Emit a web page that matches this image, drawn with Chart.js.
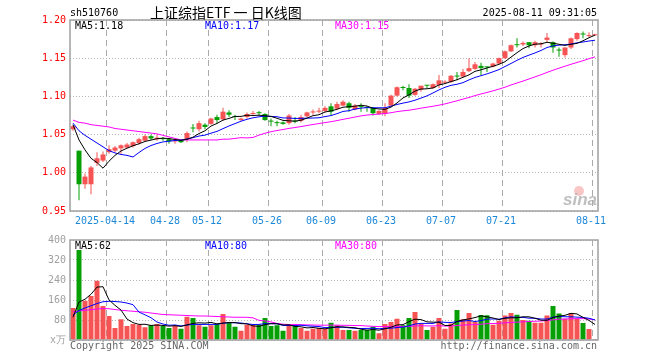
<!DOCTYPE html>
<html>
<head>
<meta charset="utf-8">
<script src="https://cdn.jsdelivr.net/npm/chart.js@4.4.1/dist/chart.umd.min.js"></script>
<style>
    html, body { margin: 0; padding: 0; background: #fff; }
    #wrap { position: relative; width: 660px; height: 360px; overflow: hidden; }
    #wrap canvas { position: absolute; left: 0; }
    .txt { position: absolute; font: 10px 'DejaVu Sans Mono', monospace; line-height: 12px; white-space: nowrap; color: #000; }
</style>
</head>
<body>
<div id="wrap">
    <canvas id="priceChart" width="660" height="230" style="top:0"></canvas>
    <canvas id="volChart" width="660" height="130" style="top:230px"></canvas>
    <div class="txt" style="left:70px;top:7px">sh510760</div>
    <div class="txt" style="left:150px;top:4px;font:14px 'Noto Sans CJK SC';line-height:16px">上证综指ETF 一 日K线图</div>
    <div class="txt" style="right:63px;top:7px">2025-08-11 09:31:05</div>
    <div class="txt" style="left:70px;top:340px;color:#666">Copyright 2025 SINA.COM</div>
    <div class="txt" style="right:63px;top:340px;color:#666">http://finance.sina.com.cn</div>
</div>
<script>
// ===== DATA =====
const dates = ['04-03', '04-07', '04-08', '04-09', '04-10', '04-11', '04-14', '04-15', '04-16', '04-17',
    '04-18', '04-21', '04-22', '04-23', '04-24', '04-25', '04-28', '04-29', '04-30', '05-06',
    '05-07', '05-08', '05-09', '05-12', '05-13', '05-14', '05-15', '05-16', '05-19', '05-20',
    '05-21', '05-22', '05-23', '05-26', '05-27', '05-28', '05-29', '05-30', '06-03', '06-04',
    '06-05', '06-06', '06-09', '06-10', '06-11', '06-12', '06-13', '06-16', '06-17', '06-18',
    '06-19', '06-20', '06-23', '06-24', '06-25', '06-26', '06-27', '06-30', '07-01', '07-02',
    '07-03', '07-04', '07-07', '07-08', '07-09', '07-10', '07-11', '07-14', '07-15', '07-16',
    '07-17', '07-18', '07-21', '07-22', '07-23', '07-24', '07-25', '07-28', '07-29', '07-30',
    '07-31', '08-01', '08-04', '08-05', '08-06', '08-07', '08-08', '08-11'];

const tickDates = ['04-14', '04-28', '05-12', '05-26', '06-09', '06-23', '07-07', '07-21', '08-11'];
const tickLabels = ['2025-04-14', '04-28', '05-12', '05-26', '06-09', '06-23', '07-07', '07-21', '08-11'];

const opens = [1.057, 1.029, 0.985, 0.985, 1.013, 1.016, 1.027, 1.029, 1.032, 1.033,
    1.035, 1.039, 1.042, 1.048, 1.044, 1.045, 1.044, 1.041, 1.043, 1.044,
    1.059, 1.057, 1.063, 1.064, 1.073, 1.070, 1.079, 1.074, 1.069, 1.073,
    1.077, 1.079, 1.077, 1.068, 1.066, 1.066, 1.065, 1.068, 1.068, 1.074,
    1.079, 1.080, 1.081, 1.087, 1.084, 1.088, 1.091, 1.083, 1.087, 1.086,
    1.085, 1.077, 1.077, 1.088, 1.101, 1.112, 1.111, 1.102, 1.109, 1.115,
    1.111, 1.115, 1.118, 1.119, 1.127, 1.126, 1.133, 1.136, 1.140, 1.139,
    1.139, 1.143, 1.150, 1.159, 1.168, 1.168, 1.171, 1.167, 1.168, 1.174,
    1.171, 1.161, 1.154, 1.164, 1.175, 1.182, 1.179, 1.180];

const highs = [1.062, 1.029, 0.999, 1.009, 1.027, 1.028, 1.036, 1.035, 1.037, 1.039,
    1.041, 1.046, 1.050, 1.050, 1.050, 1.047, 1.046, 1.044, 1.044, 1.054,
    1.064, 1.068, 1.065, 1.072, 1.076, 1.085, 1.082, 1.076, 1.072, 1.079,
    1.081, 1.081, 1.078, 1.071, 1.068, 1.067, 1.077, 1.073, 1.076, 1.080,
    1.083, 1.085, 1.087, 1.091, 1.093, 1.095, 1.093, 1.090, 1.091, 1.087,
    1.086, 1.082, 1.091, 1.102, 1.113, 1.114, 1.116, 1.111, 1.114, 1.115,
    1.117, 1.128, 1.121, 1.128, 1.132, 1.136, 1.150, 1.145, 1.144, 1.139,
    1.144, 1.151, 1.160, 1.168, 1.176, 1.172, 1.171, 1.173, 1.171, 1.183,
    1.172, 1.164, 1.164, 1.177, 1.184, 1.185, 1.184, 1.182];

const lows = [1.055, 0.964, 0.979, 0.972, 1.009, 1.014, 1.025, 1.027, 1.025, 1.032,
    1.033, 1.037, 1.041, 1.043, 1.042, 1.042, 1.038, 1.038, 1.039, 1.040,
    1.053, 1.054, 1.057, 1.063, 1.065, 1.068, 1.073, 1.069, 1.068, 1.071,
    1.076, 1.075, 1.068, 1.061, 1.061, 1.063, 1.063, 1.065, 1.066, 1.073,
    1.076, 1.078, 1.079, 1.075, 1.082, 1.087, 1.080, 1.082, 1.080, 1.080,
    1.075, 1.076, 1.074, 1.087, 1.100, 1.108, 1.098, 1.101, 1.106, 1.111,
    1.110, 1.111, 1.117, 1.118, 1.121, 1.125, 1.132, 1.135, 1.128, 1.132,
    1.138, 1.142, 1.149, 1.158, 1.164, 1.166, 1.163, 1.164, 1.164, 1.171,
    1.157, 1.152, 1.151, 1.162, 1.173, 1.176, 1.177, 1.179];

const closes = [1.061, 0.985, 0.995, 1.007, 1.019, 1.024, 1.031, 1.033, 1.036, 1.037,
    1.040, 1.044, 1.048, 1.045, 1.046, 1.044, 1.041, 1.042, 1.040, 1.052,
    1.058, 1.065, 1.060, 1.071, 1.069, 1.080, 1.076, 1.073, 1.071, 1.077,
    1.078, 1.078, 1.069, 1.067, 1.065, 1.064, 1.075, 1.067, 1.073, 1.079,
    1.080, 1.081, 1.085, 1.080, 1.090, 1.093, 1.085, 1.088, 1.086, 1.085,
    1.078, 1.081, 1.085, 1.101, 1.112, 1.111, 1.101, 1.110, 1.114, 1.114,
    1.116, 1.121, 1.119, 1.127, 1.126, 1.132, 1.137, 1.142, 1.137, 1.138,
    1.143, 1.150, 1.159, 1.167, 1.167, 1.170, 1.167, 1.171, 1.169, 1.177,
    1.164, 1.160, 1.164, 1.176, 1.183, 1.181, 1.180, 1.181];

// volume, 万
const volumes = [128, 360, 157, 176, 237, 136, 96, 48, 83, 56,
    64, 61, 51, 59, 64, 56, 48, 59, 45, 93,
    88, 59, 53, 59, 64, 104, 69, 53, 37, 61,
    61, 61, 88, 56, 59, 37, 64, 56, 48, 37,
    45, 48, 45, 69, 59, 40, 40, 37, 40, 40,
    53, 27, 64, 72, 85, 59, 88, 112, 64, 40,
    53, 88, 45, 66, 120, 83, 108, 72, 100, 99,
    61, 77, 98, 108, 101, 80, 77, 69, 69, 98,
    136, 106, 85, 108, 86, 68, 44, 4];

// MA values before enough days are on the chart
const ma5Head = [1.063, 1.043, 1.030, 1.019];
const ma10Head = [1.065, 1.055, 1.049, 1.044, 1.039, 1.034, 1.029, 1.026, 1.024];
const ma30Head = [1.069, 1.066, 1.065, 1.063, 1.062, 1.061, 1.060, 1.058, 1.057, 1.056,
    1.055, 1.054, 1.053, 1.052, 1.051, 1.049, 1.047, 1.045, 1.043, 1.043,
    1.043, 1.043, 1.043, 1.043, 1.043, 1.044, 1.044, 1.045, 1.046];
const volMa5Head = [91, 152, 163, 183];
const volMa10Head = [100, 118, 128, 137, 146, 153, 155, 154, 152];
const volMa30Head = [113, 116, 119, 121, 124, 126, 125, 122, 119, 117,
    115, 113, 111, 108, 105, 102, 101, 100, 99, 98,
    97, 96, 96, 95, 94, 93, 92, 91, 91];

// ===== HELPERS =====
const RED = '#f65454';
const GREEN = '#06a006';

function movingAvg(src, n, head) {
    return src.map((v, i) => {
        if (i < head.length) return head[i];
        let s = 0;
        for (let k = i - n + 1; k <= i; k++) s += src[k];
        return s / n;
    });
}

const ma5 = movingAvg(closes, 5, ma5Head);
const ma10 = movingAvg(closes, 10, ma10Head);
const ma30 = movingAvg(closes, 30, ma30Head);
const volMa5 = movingAvg(volumes, 5, volMa5Head);
const volMa10 = movingAvg(volumes, 10, volMa10Head);
const volMa30 = movingAvg(volumes, 30, volMa30Head);

const candleColors = closes.map((c, i) => c >= opens[i] ? RED : GREEN);
const last = arr => arr[arr.length - 1];

Chart.defaults.font.family = "'DejaVu Sans Mono', monospace";
Chart.defaults.font.size = 10;

function maLine(data, color) {
    return {
        type: 'line', data: data, borderColor: color, borderWidth: 1,
        pointRadius: 0, fill: false, tension: 0, order: 0
    };
}

// frame, legends and watermark
const overlayPlugin = {
    id: 'overlay',
    afterDraw(chart, args, opts) {
        const { ctx, chartArea: a } = chart;
        ctx.save();
        ctx.strokeStyle = '#a0a0a0';
        ctx.lineWidth = 1.5;
        ctx.strokeRect(a.left, a.top, a.right - a.left, a.bottom - a.top);
        if (opts.watermark) {
            ctx.fillStyle = 'rgba(245, 160, 160, 0.6)';
            ctx.beginPath();
            ctx.arc(a.right - 19, a.bottom - 20, 5, 0, Math.PI * 2);
            ctx.fill();
            ctx.font = 'italic bold 17px "Liberation Sans"';
            ctx.fillStyle = 'rgba(170, 170, 170, 0.75)';
            ctx.textAlign = 'right';
            ctx.textBaseline = 'alphabetic';
            ctx.fillText('sina', a.right - 1, a.bottom - 6);
        }
        ctx.font = '10px "DejaVu Sans Mono"';
        ctx.textAlign = 'left';
        ctx.textBaseline = 'middle';
        (opts.items || []).forEach(it => {
            ctx.fillStyle = it.color;
            ctx.fillText(it.text, it.x, a.top + 6);
        });
        ctx.restore();
    }
};

const xGrid = {
    offset: true,
    drawTicks: false,
    color: ctx => tickDates.includes(dates[ctx.index]) ? '#aaaaaa' : 'rgba(0,0,0,0)'
};

// ===== PRICE (K-LINE) CHART =====
new Chart(document.getElementById('priceChart'), {
    type: 'bar',
    data: {
        labels: dates,
        datasets: [
            maLine(ma5, '#000000'),
            maLine(ma10, '#0000ff'),
            maLine(ma30, '#ff00ff'),
            {
                data: lows.map((l, i) => [l, highs[i]]),
                backgroundColor: candleColors, barThickness: 1,
                grouped: false, inflateAmount: 0, order: 2
            },
            {
                data: opens.map((o, i) => [o, closes[i]]),
                backgroundColor: candleColors, barThickness: 5, minBarLength: 1,
                grouped: false, inflateAmount: 0, order: 1
            }
        ]
    },
    options: {
        responsive: false,
        animation: false,
        events: [],
        layout: { padding: { top: 20, right: 62, left: 0, bottom: 0 } },
        plugins: {
            legend: { display: false },
            tooltip: { enabled: false },
            overlay: {
                watermark: true,
                items: [
                    { text: 'MA5:' + last(ma5).toFixed(2), color: '#000000', x: 75 },
                    { text: 'MA10:' + last(ma10).toFixed(2), color: '#0000ff', x: 205 },
                    { text: 'MA30:' + last(ma30).toFixed(2), color: '#ff00ff', x: 335 }
                ]
            }
        },
        scales: {
            x: {
                offset: true,
                grid: xGrid,
                border: { display: false, dash: [6, 4] },
                ticks: {
                    autoSkip: false, maxRotation: 0, minRotation: 0,
                    padding: 4, labelOffset: -4, color: '#1e88d8',
                    callback: function(value) {
                        const k = tickDates.indexOf(this.getLabelForValue(value));
                        return k >= 0 ? tickLabels[k] : '';
                    }
                },
                afterFit: s => { s.height = 19; }
            },
            y: {
                min: 0.95, max: 1.20,
                grid: { drawTicks: false, color: '#b4b4b4' },
                border: { display: false, dash: [1, 2] },
                ticks: {
                    stepSize: 0.05, padding: 4, color: '#ff0000',
                    callback: v => v.toFixed(2)
                },
                afterFit: s => { s.width = 70; }
            }
        }
    },
    plugins: [overlayPlugin]
});

// ===== VOLUME CHART =====
new Chart(document.getElementById('volChart'), {
    type: 'bar',
    data: {
        labels: dates,
        datasets: [
            maLine(volMa5, '#000000'),
            maLine(volMa10, '#0000ff'),
            maLine(volMa30, '#ff00ff'),
            {
                data: volumes,
                backgroundColor: candleColors, barThickness: 5,
                grouped: false, inflateAmount: 0, order: 1
            }
        ]
    },
    options: {
        responsive: false,
        animation: false,
        events: [],
        layout: { padding: { top: 10, right: 62, left: 0, bottom: 0 } },
        plugins: {
            legend: { display: false },
            tooltip: { enabled: false },
            overlay: {
                items: [
                    { text: 'MA5:' + Math.round(last(volMa5)), color: '#000000', x: 75 },
                    { text: 'MA10:' + Math.round(last(volMa10)), color: '#0000ff', x: 205 },
                    { text: 'MA30:' + Math.round(last(volMa30)), color: '#ff00ff', x: 335 }
                ]
            }
        },
        scales: {
            x: {
                offset: true,
                grid: xGrid,
                border: { display: false, dash: [6, 4] },
                ticks: { display: false },
                afterFit: s => { s.height = 20; }
            },
            y: {
                min: 0, max: 400,
                grid: { drawTicks: false, color: '#b4b4b4' },
                border: { display: false, dash: [1, 2] },
                ticks: {
                    stepSize: 80, padding: 4, color: '#a0a0a0',
                    callback: v => v === 0 ? 'x万' : v
                },
                afterFit: s => { s.width = 70; }
            }
        }
    },
    plugins: [overlayPlugin]
});
</script>
</body>
</html>
